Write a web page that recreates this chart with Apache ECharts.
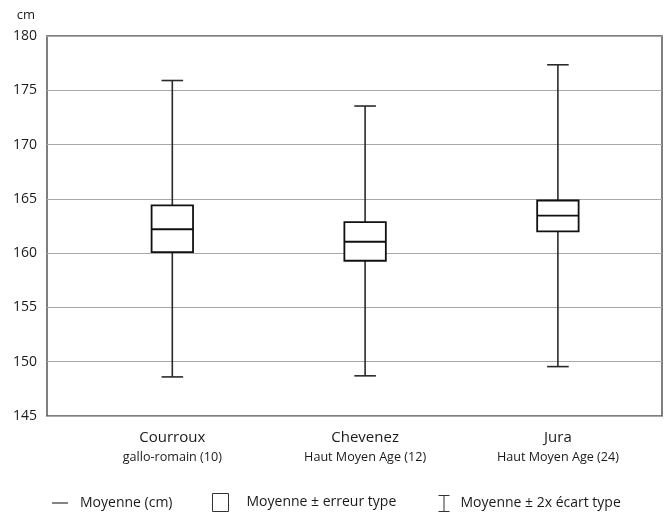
<!DOCTYPE html>
<html>
<head>
<meta charset="utf-8">
<script src="https://cdn.jsdelivr.net/npm/echarts@6/dist/echarts.min.js"></script>
<style>
  html, body { margin: 0; padding: 0; background: #fff; }
  #chart { width: 669px; height: 513px; }
</style>
</head>
<body>
<div id="chart"></div>
<script>
// Stature by site (cm): mean, mean ± standard error, mean ± 2 SD
var sites = ['Courroux', 'Chevenez', 'Jura'];
var periods = ['gallo-romain (10)', 'Haut Moyen Age (12)', 'Haut Moyen Age (24)'];
var positions = [1, 2, 3];
var means = [162.2, 161.05, 163.45];
var seLow = [160.1, 159.3, 162.0];
var seHigh = [164.4, 162.85, 164.85];
var sdLow = [148.6, 148.7, 149.55];
var sdHigh = [175.9, 173.55, 177.35];
var yTicks = [145, 150, 155, 160, 165, 170, 175, 180];

var NAME_MEAN = 'Moyenne (cm)';
var NAME_SE = 'Moyenne \u00b1 erreur type';
var NAME_SD = 'Moyenne \u00b1 2x \u00e9cart type';

var FONT = 'Open Sans';
var INK = '#1a1a1a';

var rows = positions.map(function (p, i) {
  return [p, sdLow[i], seLow[i], means[i], seHigh[i], sdHigh[i]];
});

function whiskers(params, api) {
  var x = api.value(0);
  var lo = api.coord([x, api.value(1)]);
  var hi = api.coord([x, api.value(5)]);
  var half = api.size([0.112, 0])[0] / 2;
  var style = { stroke: '#2a2a2a', lineWidth: 1.6 };
  return {
    type: 'group',
    children: [
      { type: 'line', shape: { x1: lo[0], y1: lo[1], x2: hi[0], y2: hi[1] }, style: style },
      { type: 'line', shape: { x1: hi[0] - half, y1: hi[1], x2: hi[0] + half, y2: hi[1] }, style: style },
      { type: 'line', shape: { x1: lo[0] - half, y1: lo[1], x2: lo[0] + half, y2: lo[1] }, style: style }
    ]
  };
}

function seBox(params, api) {
  var x = api.value(0);
  var top = api.coord([x, api.value(4)]);
  var bot = api.coord([x, api.value(2)]);
  var w = api.size([0.215, 0])[0];
  return {
    type: 'rect',
    shape: { x: top[0] - w / 2, y: top[1], width: w, height: bot[1] - top[1] },
    style: { fill: '#fff', stroke: '#111', lineWidth: 1.8 }
  };
}

function meanLine(params, api) {
  var x = api.value(0);
  var c = api.coord([x, api.value(3)]);
  var w = api.size([0.215, 0])[0];
  return {
    type: 'line',
    shape: { x1: c[0] - w / 2, y1: c[1], x2: c[0] + w / 2, y2: c[1] },
    style: { stroke: '#111', lineWidth: 1.8 }
  };
}

function legendText(gap) {
  return { fontFamily: FONT, fontSize: 14, color: INK, padding: [0, 0, 0, gap] };
}

var option = {
  animation: false,
  backgroundColor: '#fff',
  grid: {
    left: 47, right: 7, top: 36, bottom: 97,
    show: true, borderColor: '#555', borderWidth: 1.5, backgroundColor: 'transparent'
  },
  legend: [
    {
      data: [NAME_MEAN], left: 52, top: 496, padding: 0, icon: 'rect',
      itemWidth: 16, itemHeight: 1.2,
      itemStyle: { color: '#333', borderWidth: 0 },
      textStyle: legendText(7), selectedMode: false
    },
    {
      data: [NAME_SE], left: 212, top: 493, padding: 0, icon: 'rect',
      itemWidth: 16, itemHeight: 18,
      itemStyle: { color: '#fff', borderColor: '#333', borderWidth: 1 },
      textStyle: legendText(13), selectedMode: false
    },
    {
      data: [NAME_SD], left: 436, top: 493, padding: 0,
      icon: 'path://M0,0H11M5.5,0V16M0,16H11',
      itemWidth: 11, itemHeight: 16,
      itemStyle: { color: 'none', borderColor: '#333', borderWidth: 1 },
      textStyle: legendText(6), selectedMode: false
    }
  ],
  xAxis: {
    type: 'value',
    min: 0.35,
    max: 3.54,
    axisLine: { show: false },
    axisTick: { show: false },
    splitLine: { show: false },
    axisLabel: {
      customValues: positions,
      margin: 12,
      formatter: function (v) {
        var i = positions.indexOf(v);
        if (i < 0) return '';
        return '{a|' + sites[i] + '}\n{b|' + periods[i] + '}';
      },
      rich: {
        a: { fontFamily: FONT, fontSize: 15, color: INK, lineHeight: 20 },
        b: { fontFamily: FONT, fontSize: 12.6, color: INK, lineHeight: 19 }
      }
    }
  },
  yAxis: {
    type: 'value',
    min: yTicks[0],
    max: yTicks[yTicks.length - 1],
    interval: 5,
    name: 'cm',
    nameLocation: 'end',
    nameGap: 14,
    nameTextStyle: { fontFamily: FONT, fontSize: 13, color: INK, align: 'right', padding: [0, 12, 0, 0] },
    axisLine: { show: false },
    axisTick: { show: false },
    axisLabel: { fontFamily: FONT, fontSize: 14, color: INK, margin: 10 },
    splitLine: { show: true, lineStyle: { color: '#a8a8a8', width: 1.2 } }
  },
  series: [
    {
      name: NAME_SD, type: 'custom', renderItem: whiskers, data: rows,
      encode: { x: 0, y: [1, 5] }, itemStyle: { color: '#333' }, z: 2
    },
    {
      name: NAME_SE, type: 'custom', renderItem: seBox, data: rows,
      encode: { x: 0, y: [2, 4] }, itemStyle: { color: '#333' }, z: 3
    },
    {
      name: NAME_MEAN, type: 'custom', renderItem: meanLine, data: rows,
      encode: { x: 0, y: 3 }, itemStyle: { color: '#333' }, z: 4
    }
  ]
};

var chart = echarts.init(document.getElementById('chart'), null, { renderer: 'canvas' });
chart.setOption(option);
</script>
</body>
</html>
